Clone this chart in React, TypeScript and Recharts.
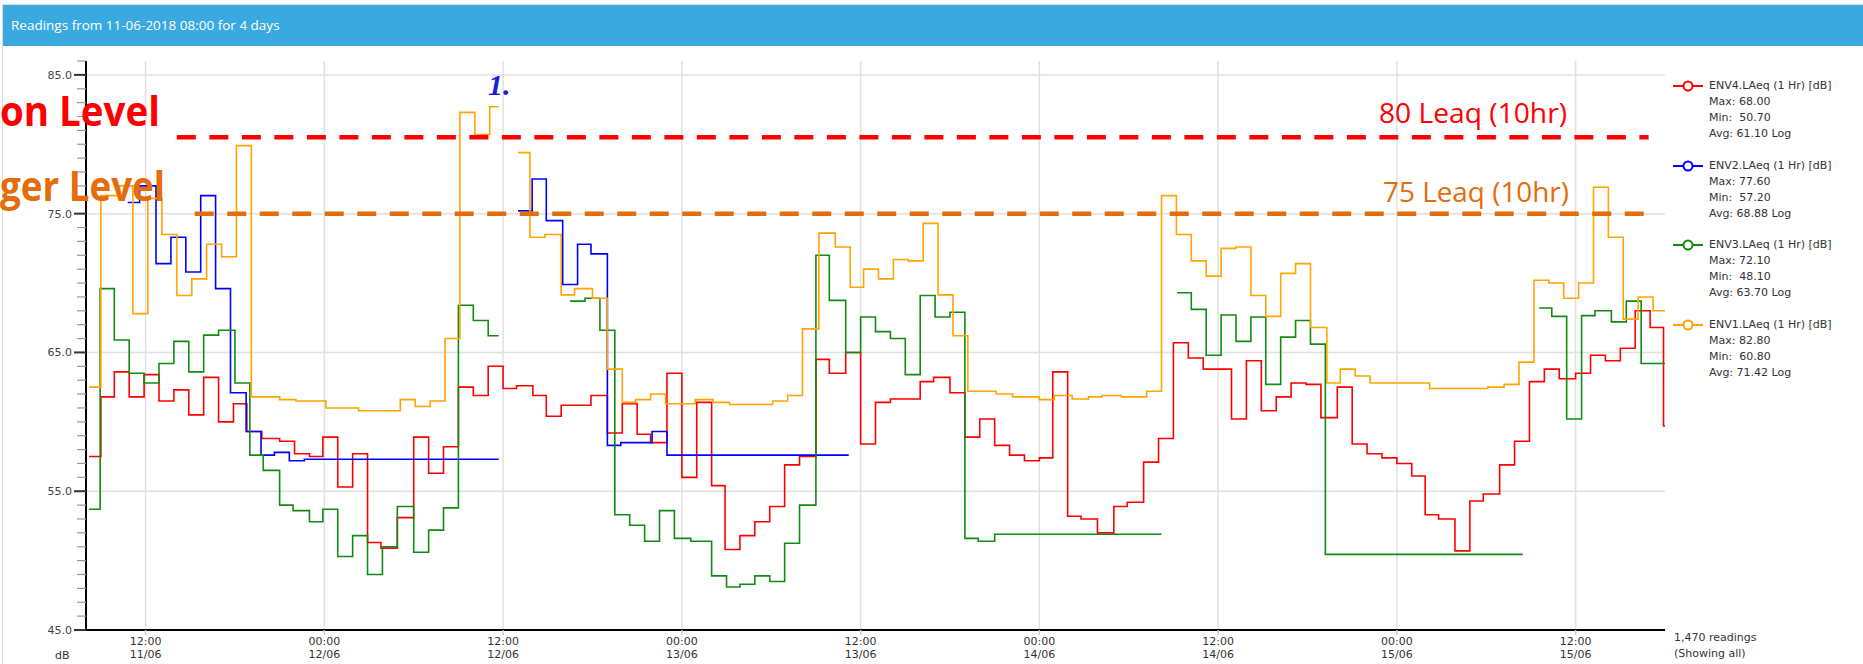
import React from 'react';
import { LineChart, Line, XAxis, YAxis, ReferenceLine } from 'recharts';

// hours after 11-06-2018 08:00, value holds until the next hour entry
const env4Hours = [0.2, 1.0, 1.9, 2.9, 3.9, 4.9, 5.9, 6.9, 7.9, 8.9, 9.9, 10.8, 11.8, 13.0, 14.0, 15.0, 15.9, 16.9, 17.9, 18.9, 19.8, 20.9, 22.0, 23.0, 24.0, 25.0, 26.0, 27.0, 28.0, 28.9, 30.0, 30.9, 31.9, 33.9, 35.0, 36.0, 37.0, 37.9, 39.0, 40.0, 41.0, 42.0, 42.9, 43.9, 44.9, 45.9, 46.9, 47.9, 49.0, 49.9, 51.0, 52.0, 53.0, 54.0, 56.0, 56.9, 58.0, 59.0, 60.0, 61.0, 62.0, 63.0, 64.0, 64.9, 65.9, 66.8, 67.9, 69.0, 69.9, 71.0, 72.0, 73.0, 74.0, 75.0, 76.9, 77.9, 78.9, 79.9, 80.9, 81.9, 82.9, 84.0, 85.0, 86.0, 87.0, 88.0, 89.0, 89.9, 90.8, 91.9, 92.9, 93.8, 94.9, 95.9, 96.9, 97.9, 98.9, 100.0, 101.0, 102.0, 103.0, 104.0, 105.0, 105.9, 106];
const env4Values = [57.5, 61.8, 63.6, 61.8, 63.4, 61.5, 62.3, 60.5, 63.2, 60.0, 61.3, 59.3, 58.8, 58.6, 57.7, 57.5, 58.9, 55.3, 57.7, 51.3, 50.9, 53.1, 58.9, 56.3, 58.2, 62.5, 61.9, 64.0, 62.4, 62.6, 61.9, 60.4, 61.2, 61.9, 59.2, 61.3, 59.1, 58.5, 63.5, 56.0, 61.4, 55.4, 50.8, 51.8, 52.8, 53.9, 56.9, 57.5, 64.5, 63.5, 65.0, 58.4, 61.4, 61.65, 62.9, 63.2, 62.1, 58.9, 60.2, 58.3, 57.6, 57.2, 57.4, 63.6, 53.2, 53.0, 52.0, 53.9, 54.2, 57.1, 58.8, 65.7, 64.6, 63.8, 60.2, 64.4, 60.8, 61.8, 62.8, 62.7, 60.3, 62.5, 58.4, 57.7, 57.4, 57.0, 56.1, 53.3, 53.0, 50.7, 54.3, 54.8, 56.9, 58.6, 62.9, 63.8, 63.1, 63.5, 64.8, 64.4, 65.3, 68.0, 66.8, 59.7, 59.7];

const env2Hours = [2.8, 3.6, 4.7, 5.7, 6.7, 7.7, 8.7, 9.7, 10.75, 11.75, 12.65, 13.65, 14.66, 27.7, 27.8, 29.0, 29.95, 30.9, 32.0, 33.0, 33.9, 35.0, 35.9, 38.0, 39.0, 51.2];
const env2Values = [75.8, 77.0, 71.4, 73.3, 70.8, 76.3, 69.6, 62.1, 59.3, 57.6, 57.8, 57.2, 57.3, 57.3, null, 75.2, 77.5, 74.5, 69.9, 72.8, 72.1, 58.3, 58.5, 59.3, 57.6, 57.6];

const env3Hours = [0.2, 0.95, 1.9, 2.9, 3.9, 4.9, 5.9, 6.9, 7.9, 8.9, 10.0, 11.0, 11.9, 13.0, 13.9, 15.0, 15.9, 16.9, 17.9, 18.9, 19.9, 20.9, 22.0, 23.0, 24.0, 25.0, 26.0, 27.0, 27.7, 27.8, 32.5, 33.5, 34.5, 35.5, 36.5, 37.5, 38.5, 39.5, 40.6, 42.0, 43.0, 43.9, 44.9, 45.9, 46.9, 47.9, 49.0, 49.9, 51.0, 52.0, 53.0, 54.0, 55.0, 56.0, 57.0, 58.0, 59.0, 59.9, 61.0, 72.2, 72.3, 73.25, 74.2, 75.2, 76.2, 77.2, 78.2, 79.2, 80.2, 81.2, 82.2, 83.2, 96.45, 96.5, 97.55, 98.4, 99.4, 100.4, 101.3, 102.4, 103.4, 104.4, 106];
const env3Values = [53.7, 69.6, 65.9, 63.5, 62.8, 64.2, 65.8, 63.6, 66.25, 66.6, 62.8, 57.6, 56.5, 54.0, 53.6, 52.8, 53.7, 50.3, 51.8, 49.0, 51.0, 53.9, 50.6, 52.2, 53.8, 68.4, 67.3, 66.2, 66.2, null, 68.7, 68.9, 66.6, 53.3, 52.55, 51.4, 53.6, 51.6, 51.4, 48.9, 48.1, 48.3, 48.9, 48.5, 51.25, 54.0, 72.0, 68.75, 65.0, 67.55, 66.5, 66.0, 63.4, 69.1, 67.55, 67.9, 51.6, 51.4, 51.9, 51.9, null, 69.3, 68.1, 64.8, 67.7, 65.8, 67.55, 62.7, 66.1, 67.3, 65.6, 50.45, 50.45, null, 68.2, 67.6, 60.2, 67.65, 68.0, 67.2, 68.7, 64.2, 64.2];

const env1Hours = [0.2, 1.0, 2.2, 3.15, 4.15, 5.1, 6.1, 7.1, 8.1, 9.1, 10.1, 11.1, 13.0, 14.1, 16.1, 18.3, 21.1, 22.1, 23.1, 24.1, 25.1, 26.1, 27.1, 27.7, 27.8, 29.0, 29.8, 30.8, 31.9, 32.8, 34.0, 35.0, 36.0, 36.9, 37.9, 38.9, 40.9, 42.1, 43.2, 46.1, 47.1, 48.1, 49.2, 50.3, 51.3, 52.2, 53.2, 54.2, 55.2, 56.2, 57.2, 58.2, 59.2, 61.1, 62.2, 64.0, 65.0, 66.2, 67.3, 68.2, 69.5, 71.2, 72.2, 73.2, 74.2, 75.2, 76.2, 77.2, 78.2, 79.2, 80.2, 81.2, 82.2, 83.3, 84.2, 85.2, 86.2, 90.2, 94.1, 95.2, 96.2, 97.2, 98.2, 99.2, 100.2, 101.2, 102.2, 103.2, 104.2, 105.2, 106];
const env1Values = [62.5, 76.3, 77.0, 67.8, 76.1, 73.5, 69.1, 70.3, 72.8, 71.9, 79.9, 61.8, 61.6, 61.5, 61.0, 60.8, 61.6, 61.1, 61.5, 66.0, 82.3, 80.7, 82.7, 82.7, null, 79.4, 73.3, 73.5, 69.15, 69.6, 68.9, 63.8, 61.4, 61.6, 62.0, 61.3, 61.6, 61.4, 61.25, 61.5, 61.9, 66.7, 73.6, 72.6, 69.7, 71.0, 70.3, 71.7, 71.6, 74.3, 69.15, 66.2, 62.2, 62.0, 61.8, 61.6, 61.9, 61.65, 61.8, 61.9, 61.8, 62.2, 76.3, 73.5, 71.6, 70.5, 72.5, 72.6, 69.1, 67.6, 70.7, 71.4, 66.8, 62.8, 63.8, 63.3, 62.8, 62.4, 62.5, 62.7, 64.3, 70.2, 70.0, 68.9, 70.0, 76.9, 73.3, 67.4, 69.0, 68.0, 68.0];

const seriesNames = ['ENV4.LAeq (1 Hr) [dB]', 'ENV2.LAeq (1 Hr) [dB]', 'ENV3.LAeq (1 Hr) [dB]', 'ENV1.LAeq (1 Hr) [dB]'];
const seriesMax = ['68.00', '77.60', '72.10', '82.80'];
const seriesMin = ['50.70', '57.20', '48.10', '60.80'];
const seriesAvg = ['61.10', '68.88', '63.70', '71.42'];
const seriesColors = ['#ff0000', '#0000ff', '#138a13', '#ffa500'];

const xTickHours = [4, 16, 28, 40, 52, 64, 76, 88, 100];
const xTickTimes = ['12:00', '00:00', '12:00', '00:00', '12:00', '00:00', '12:00', '00:00', '12:00'];
const xTickDates = ['11/06', '12/06', '12/06', '13/06', '13/06', '14/06', '14/06', '15/06', '15/06'];
const yTicks = [45, 46, 47, 48, 49, 50, 51, 52, 53, 54, 55, 56, 57, 58, 59, 60, 61, 62, 63, 64, 65, 66, 67, 68, 69, 70, 71, 72, 73, 74, 75, 76, 77, 78, 79, 80, 81, 82, 83, 84, 85, 86];
const yMajor = [45, 55, 65, 75, 85];

const actionLevel = 80.5;
const triggerLevel = 75;

const toRows = (hours: number[], values: (number | null)[]) =>
  hours.map((h, i) => ({ h, v: values[i] }));

const seriesRows = [
  toRows(env4Hours, env4Values),
  toRows(env2Hours, env2Values),
  toRows(env3Hours, env3Values),
  toRows(env1Hours, env1Values),
];

const axisFont = '"DejaVu Sans", Verdana, sans-serif';

const YTick = (props: any) => {
  const { x, y, payload } = props;
  const major = yMajor.includes(payload.value);
  return (
    <g>
      <line x1={x - (major ? 12 : 9)} x2={x} y1={y} y2={y} stroke={major ? '#333' : '#999'} strokeWidth={major ? 2 : 1.2} />
      {major && (
        <text x={x - 14} y={y + 4} textAnchor="end" fontSize={11} fontFamily={axisFont} fill="#444">
          {payload.value.toFixed(1)}
        </text>
      )}
    </g>
  );
};

const XTick = (props: any) => {
  const { x, y, payload } = props;
  const i = xTickHours.indexOf(payload.value);
  return (
    <g>
      <line x1={x} x2={x} y1={y} y2={y + 5} stroke="#ccc" strokeWidth={1.5} />
      <text x={x} y={y + 15} textAnchor="middle" fontSize={11} fontFamily={axisFont} fill="#333">
        {xTickTimes[i]}
      </text>
      <text x={x} y={y + 28} textAnchor="middle" fontSize={11} fontFamily={axisFont} fill="#333">
        {xTickDates[i]}
      </text>
    </g>
  );
};

const LegendBlock = () => (
  <>
    {seriesNames.map((name, i) => (
      <div
        key={name}
        style={{
          position: 'absolute',
          left: 1672,
          top: 78 + i * 79.7,
          fontFamily: axisFont,
          fontSize: 11,
          lineHeight: '16px',
          color: '#333',
          whiteSpace: 'pre',
        }}
      >
        <svg width={34} height={16} style={{ position: 'absolute', left: 0, top: 0 }}>
          <line x1={1} x2={31} y1={8} y2={8} stroke={seriesColors[i]} strokeWidth={2} />
          <circle cx={16} cy={8} r={4.5} fill="#fff" stroke={seriesColors[i]} strokeWidth={2} />
        </svg>
        <div style={{ marginLeft: 37 }}>
          <div>{name}</div>
          <div>{`Max: ${seriesMax[i]}`}</div>
          <div>{`Min:  ${seriesMin[i]}`}</div>
          <div>{`Avg: ${seriesAvg[i]} Log`}</div>
        </div>
      </div>
    ))}
  </>
);

export default function App() {
  return (
    <div style={{ position: 'absolute', left: 0, top: 0, width: 1863, height: 664, background: '#fff', overflow: 'hidden' }}>
      <div style={{ position: 'absolute', left: 2, top: 4, width: 1870, height: 670, border: '1px solid #dcdcdc' }} />
      <div
        style={{
          position: 'absolute',
          left: 3,
          top: 5,
          width: 1860,
          height: 41,
          background: '#39a9e0',
          color: '#fff',
          fontFamily: '"Open Sans", sans-serif',
          fontSize: 13.5,
          lineHeight: '41px',
          paddingLeft: 8,
          boxSizing: 'border-box',
        }}
      >
        Readings from 11-06-2018 08:00 for 4 days
      </div>

      <div style={{ position: 'absolute', left: 0, top: 0 }}>
        <LineChart width={1863} height={664} margin={{ top: 61, right: 198, left: 26, bottom: 4 }}>
          <XAxis
            type="number"
            dataKey="h"
            domain={[0, 106]}
            ticks={xTickHours}
            interval={0}
            tick={<XTick />}
            tickLine={false}
            tickSize={0}
            tickMargin={0}
            height={30}
            axisLine={{ stroke: '#000', strokeWidth: 2 }}
            allowDataOverflow
          />
          <YAxis
            type="number"
            domain={[45, 86]}
            ticks={yTicks}
            interval={0}
            tick={<YTick />}
            tickLine={false}
            tickSize={0}
            tickMargin={0}
            width={60}
            axisLine={{ stroke: '#000', strokeWidth: 2 }}
            allowDataOverflow
          />
          {yMajor.slice(1).map((v) => (
            <ReferenceLine key={`gy${v}`} y={v} stroke="#e0e0e0" strokeWidth={1.5} />
          ))}
          {xTickHours.map((h) => (
            <ReferenceLine key={`gx${h}`} x={h} stroke="#e0e0e0" strokeWidth={1.5} />
          ))}
          {seriesRows.map((rows, i) => (
            <Line
              key={seriesNames[i]}
              data={rows}
              dataKey="v"
              type="stepAfter"
              stroke={seriesColors[i]}
              strokeWidth={1.6}
              dot={false}
              activeDot={false}
              connectNulls={false}
              isAnimationActive={false}
            />
          ))}
          <ReferenceLine
            segment={[{ x: 6.1, y: actionLevel }, { x: 104.9, y: actionLevel }]}
            stroke="#ff0000"
            strokeWidth={4.5}
            strokeDasharray="19 13.5"
          />
          <ReferenceLine
            segment={[{ x: 7.3, y: triggerLevel }, { x: 104.9, y: triggerLevel }]}
            stroke="#e46c0a"
            strokeWidth={4.5}
            strokeDasharray="19 13.5"
          />
        </LineChart>
      </div>

      <svg width={1863} height={664} style={{ position: 'absolute', left: 0, top: 0, pointerEvents: 'none' }}>
        <text x={0} y={126} fontSize={42} fontWeight="bold" fontFamily='"Open Sans", sans-serif' fill="#ff0000" textLength={160} lengthAdjust="spacingAndGlyphs">
          on Level
        </text>
        <text x={0} y={201} fontSize={41} fontWeight="bold" fontFamily='"Open Sans", sans-serif' fill="#e46c0a" textLength={165} lengthAdjust="spacingAndGlyphs">
          ger Level
        </text>
        <text x={1379} y={123} fontSize={28} fontFamily='"Open Sans", sans-serif' fill="#ff0000" textLength={188} lengthAdjust="spacingAndGlyphs">
          80 Leaq (10hr)
        </text>
        <text x={1383} y={202} fontSize={28} fontFamily='"Open Sans", sans-serif' fill="#e46c0a" textLength={186} lengthAdjust="spacingAndGlyphs">
          75 Leaq (10hr)
        </text>
        <text x={488} y={95} fontSize={30} fontStyle="italic" fontWeight="bold" fontFamily='"Liberation Serif", serif' fill="#1c1cdc">
          1.
        </text>
        <text x={55} y={659} fontSize={11} fontFamily={axisFont} fill="#333">
          dB
        </text>
        <text x={1674} y={641} fontSize={11} fontFamily={axisFont} fill="#333">
          1,470 readings
        </text>
        <text x={1674} y={657} fontSize={11} fontFamily={axisFont} fill="#333">
          (Showing all)
        </text>
      </svg>

      <LegendBlock />
    </div>
  );
}
